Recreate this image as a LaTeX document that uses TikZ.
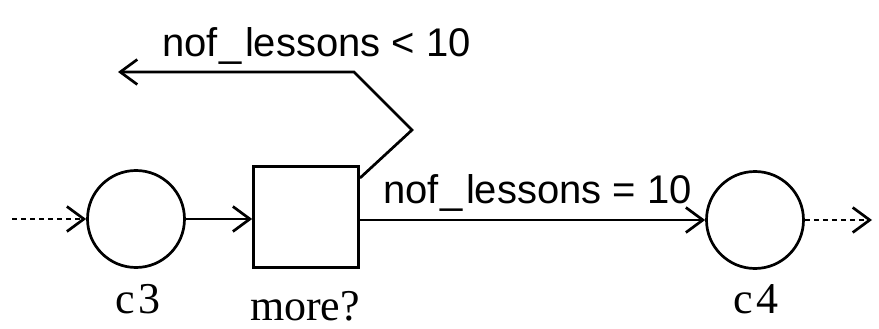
\documentclass[tikz,border=0pt]{standalone}
\usepackage{fontspec}
\setmainfont{Liberation Serif}
\newfontfamily\arialf{Liberation Sans}
\usetikzlibrary{arrows.meta}
\tikzset{
  place/.style={circle,draw,line width=2.7pt,minimum size=97pt,inner sep=0pt},
  trans/.style={rectangle,draw,line width=2.7pt,minimum width=105pt,minimum height=101pt,inner sep=0pt},
  arc/.style={line width=2.7pt,-{Straight Barb[length=17pt,width=25pt,line width=2.7pt]}},
  dotarc/.style={arc,dash pattern=on 5pt off 4pt},
  guardtext/.style={font=\arialf\fontsize{40}{48}\selectfont,inner sep=0pt},
  nodelabel/.style={font=\fontsize{44}{52}\selectfont,inner sep=0pt}
}
\begin{document}
\begin{tikzpicture}[x=1pt,y=-1pt]
\useasboundingbox (0,0) rectangle (879,329);
\node[place] (c3) at (136,219) {};
\node[trans] (more) at (306,217) {};
\node[place] (c4) at (755,220) {};
\coordinate (in) at (12,219);
\coordinate (out) at (872,220);
\coordinate (st) at (360,178);
\coordinate (k1) at (412,130);
\coordinate (k2) at (354,72);
\coordinate (lt) at (118,72);
\draw[dotarc] (in) -- (c3.west);
\draw[arc] (c3.east) -- (more.west |- c3.east);
\draw[arc] (more.east |- c4.west) -- (c4.west);
\draw[dotarc] (c4.east) -- (out);
\draw[arc] (st) -- (k1) -- (k2) -- (lt);
\node[guardtext,anchor=base west] (g1) at (162,57) {nof\kern2pt\_\kern3pt lessons < 10};
\node[guardtext,anchor=base west] (g2) at (383,203) {nof\kern2pt\_\kern3pt lessons = 10};
\node[nodelabel,anchor=base] (n3) at (138,313) {c\kern3pt 3};
\node[nodelabel,anchor=base] (nm) at (305,320) {more?};
\node[nodelabel,anchor=base] (n4) at (756,313) {c\kern3pt 4};
\end{tikzpicture}
\end{document}
